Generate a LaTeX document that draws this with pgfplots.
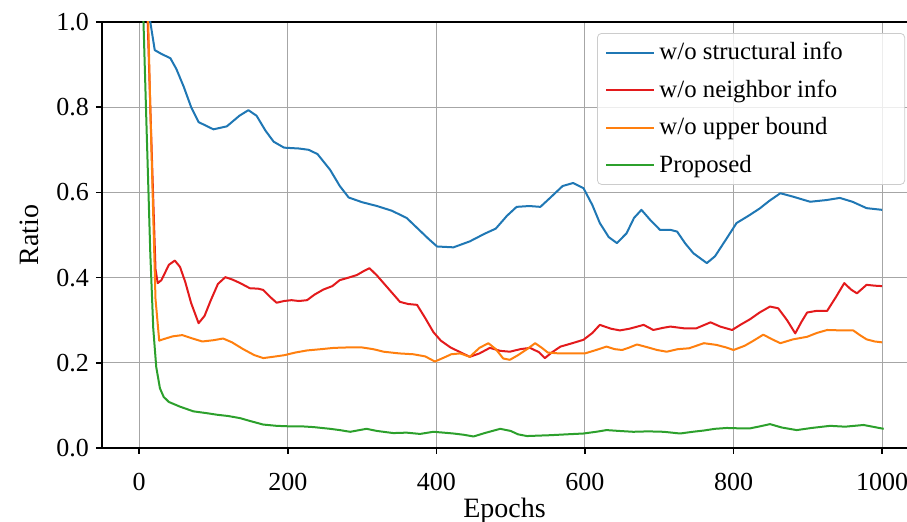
\documentclass[border=0pt]{standalone}
\usepackage{fontspec}
\setmainfont{Liberation Serif}
\usepackage{pgfplots}
\pgfplotsset{compat=1.18}
\definecolor{cblue}{HTML}{1F77B4}
\definecolor{cred}{HTML}{E31A1C}
\definecolor{corange}{HTML}{FF7F0E}
\definecolor{cgreen}{HTML}{2CA02C}
\begin{document}
\begin{tikzpicture}
\begin{axis}[
  at={(0,0)}, anchor=south west,
  scale only axis, width=402.5pt, height=213pt,
  xmin=-50, xmax=1033.4, ymin=0, ymax=1,
  axis x line*=box, axis y line*=left,
  xtick pos=bottom, ytick pos=left,
  tick align=outside, major tick length=3pt,
  xtick={0,200,400,600,800,1000},
  ytick={0,0.2,0.4,0.6,0.8,1.0},
  /pgf/number format/assume math mode=true,
  /pgf/number format/1000 sep={},
  yticklabel style={/pgf/number format/.cd, fixed, fixed zerofill, precision=1},
  xticklabel style={yshift=-6pt},
  tick label style={font=\fontsize{13}{15}\selectfont},
  label style={font=\fontsize{14}{16}\selectfont},
  xlabel={Epochs}, ylabel={Ratio},
  xlabel style={yshift=3pt},
  ylabel style={yshift=2pt},
  grid=major,
  major grid style={color=black!35, line width=0.5pt},
  axis line style={line width=0.8pt, black},
  every tick/.style={black, line width=0.8pt},
  legend style={at={(0.615,0.974)}, anchor=north west,
    draw=black!20, rounded corners=2pt, fill=white, fill opacity=0.8, text opacity=1,
    font=\fontsize{12.4}{14}\selectfont, cells={anchor=west}, row sep=4.6pt,
    inner xsep=4pt, inner ysep=2.5pt},
  legend image code/.code={\draw[#1] (0pt,0pt) -- (24pt,0pt);},
  every axis plot/.append style={line width=1pt, line join=round},
]
\addplot[cblue] coordinates {(0,1.5)(10,1.1)(15,1.0)(21,0.934)(30,0.925)(42,0.915)(50,0.89)(60,0.848)(70,0.80)(80,0.765)(100,0.748)(118,0.755)(135,0.78)(147,0.793)(158,0.78)(170,0.745)(181,0.719)(195,0.705)(215,0.703)(228,0.70)(240,0.69)(257,0.653)(270,0.615)(282,0.588)(300,0.577)(320,0.568)(340,0.557)(360,0.54)(375,0.515)(390,0.49)(401,0.473)(423,0.471)(445,0.485)(465,0.503)(480,0.515)(495,0.545)(508,0.566)(525,0.568)(540,0.566)(553,0.587)(570,0.615)(584,0.622)(598,0.61)(610,0.57)(620,0.528)(632,0.495)(643,0.481)(656,0.504)(666,0.54)(676,0.559)(688,0.535)(701,0.512)(715,0.512)(724,0.508)(735,0.48)(746,0.457)(764,0.434)(775,0.45)(790,0.49)(804,0.528)(820,0.545)(835,0.562)(848,0.58)(863,0.598)(880,0.59)(903,0.578)(925,0.582)(943,0.587)(960,0.578)(979,0.563)(1000,0.559)};
\addlegendentry{w/o structural info\rule{25pt}{0pt}}
\addplot[cred] coordinates {(0,1.6)(8,1.2)(15,0.8)(22,0.42)(25,0.387)(30,0.394)(40,0.43)(48,0.44)(55,0.425)(62,0.39)(70,0.34)(80,0.293)(88,0.31)(96,0.345)(106,0.385)(116,0.401)(126,0.395)(136,0.387)(149,0.375)(160,0.374)(167,0.371)(176,0.355)(185,0.341)(195,0.345)(205,0.347)(215,0.345)(226,0.347)(236,0.36)(248,0.372)(260,0.38)(270,0.394)(282,0.4)(293,0.406)(302,0.415)(310,0.422)(320,0.405)(329,0.387)(340,0.365)(351,0.343)(362,0.338)(374,0.336)(385,0.305)(396,0.272)(406,0.252)(419,0.236)(432,0.225)(445,0.214)(458,0.222)(472,0.235)(486,0.228)(499,0.226)(513,0.232)(526,0.235)(538,0.225)(546,0.211)(556,0.225)(567,0.238)(583,0.246)(598,0.254)(610,0.27)(620,0.289)(635,0.28)(647,0.276)(660,0.28)(679,0.289)(692,0.277)(705,0.282)(715,0.285)(733,0.281)(750,0.281)(769,0.295)(782,0.285)(798,0.277)(810,0.29)(822,0.302)(835,0.318)(849,0.332)(860,0.328)(872,0.3)(883,0.269)(891,0.295)(899,0.318)(912,0.322)(926,0.322)(938,0.355)(949,0.387)(958,0.372)(966,0.363)(979,0.383)(990,0.381)(1000,0.38)};
\addlegendentry{w/o neighbor info}
\addplot[corange] coordinates {(0,1.6)(8,1.3)(15,0.8)(22,0.35)(27,0.252)(32,0.255)(45,0.262)(58,0.265)(70,0.258)(85,0.25)(100,0.253)(113,0.257)(125,0.248)(140,0.232)(155,0.218)(167,0.211)(180,0.214)(196,0.218)(210,0.224)(226,0.229)(245,0.232)(262,0.235)(280,0.236)(300,0.236)(315,0.232)(329,0.226)(350,0.222)(369,0.22)(385,0.215)(398,0.203)(410,0.212)(420,0.22)(432,0.222)(445,0.214)(458,0.235)(470,0.246)(480,0.232)(490,0.21)(499,0.207)(510,0.218)(522,0.232)(533,0.246)(542,0.235)(550,0.224)(565,0.222)(580,0.222)(600,0.222)(615,0.23)(629,0.238)(640,0.232)(650,0.23)(660,0.236)(670,0.243)(685,0.236)(697,0.23)(710,0.226)(725,0.232)(740,0.234)(760,0.246)(777,0.242)(790,0.236)(800,0.23)(815,0.24)(825,0.25)(840,0.266)(852,0.255)(863,0.246)(880,0.255)(899,0.261)(912,0.27)(926,0.277)(945,0.276)(961,0.276)(970,0.265)(979,0.255)(990,0.25)(1000,0.248)};
\addlegendentry{w/o upper bound}
\addplot[cgreen] coordinates {(0,1.6)(5,1.05)(10,0.75)(15,0.457)(19,0.28)(23,0.19)(28,0.14)(33,0.12)(40,0.108)(55,0.097)(73,0.086)(90,0.082)(105,0.078)(120,0.075)(136,0.07)(150,0.063)(167,0.055)(185,0.052)(199,0.051)(217,0.051)(235,0.049)(257,0.045)(270,0.042)(284,0.038)(306,0.045)(320,0.04)(342,0.035)(360,0.036)(378,0.033)(396,0.038)(410,0.036)(423,0.034)(437,0.031)(450,0.027)(465,0.035)(486,0.045)(500,0.04)(510,0.032)(522,0.028)(537,0.029)(553,0.03)(575,0.032)(598,0.034)(615,0.038)(629,0.042)(646,0.04)(665,0.038)(685,0.039)(706,0.038)(728,0.034)(745,0.038)(760,0.041)(775,0.045)(791,0.047)(810,0.046)(822,0.046)(836,0.051)(849,0.056)(865,0.048)(885,0.042)(905,0.047)(930,0.052)(950,0.05)(975,0.054)(990,0.049)(1002,0.045)};
\addlegendentry{Proposed}
\end{axis}
\pgfresetboundingbox
\useasboundingbox (-51pt,-37pt) rectangle (402.5pt,224pt);
\end{tikzpicture}
\end{document}
